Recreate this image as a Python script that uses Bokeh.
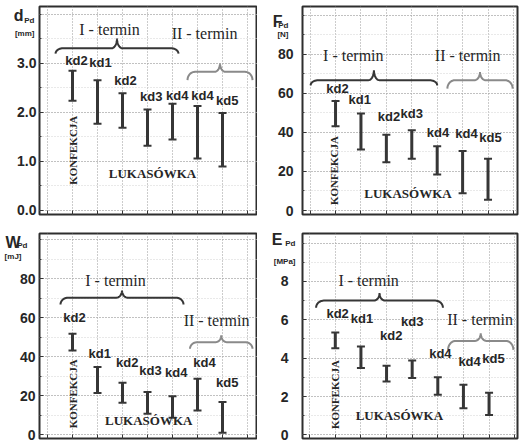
import numpy as np
from bokeh.plotting import figure
from bokeh.layouts import gridplot
from bokeh.models import (ColumnDataSource, Whisker, TeeHead, FixedTicker,
                          Range1d, Label, NumeralTickFormatter, LinearAxis)
from bokeh.core.properties import value
from bokeh.embed import file_html
from bokeh.resources import INLINE

# ---------------- data ----------------
positions = [1, 2, 3, 4, 5, 6, 7]
labels = ["kd2", "kd1", "kd2", "kd3", "kd4", "kd4", "kd5"]

d_lo = [2.24, 1.77, 1.69, 1.32, 1.45, 1.06, 0.90]
d_hi = [2.85, 2.66, 2.39, 2.06, 2.18, 2.13, 1.99]
d_label_x = [1.16, 2.12, 3.12, 4.15, 5.19, 6.20, 7.19]
d_label_y = [3.07, 3.01, 2.66, 2.32, 2.35, 2.35, 2.25]

F_lo = [43.2, 31.3, 24.8, 26.5, 18.5, 8.9, 5.5]
F_hi = [56.2, 49.7, 38.9, 41.1, 32.9, 30.5, 26.5]
F_label_x = [1.08, 1.95, 3.10, 4.00, 5.03, 6.15, 7.10]
F_label_y = [62.5, 57.0, 48.0, 49.7, 40.2, 39.4, 37.3]

W_lo = [43.2, 21.4, 16.4, 10.8, 8.7, 12.5, 1.0]
W_hi = [51.8, 34.7, 26.7, 21.9, 19.7, 28.7, 16.8]
W_label_x = [1.08, 2.09, 3.19, 4.12, 5.15, 6.28, 7.19]
W_label_y = [60.0, 41.5, 37.3, 33.0, 32.1, 37.3, 27.0]

E_lo = [4.52, 3.48, 2.78, 2.96, 2.09, 1.39, 1.04]
E_hi = [5.34, 4.61, 3.60, 3.88, 3.00, 2.61, 2.20]
E_label_x = [1.09, 2.04, 3.18, 4.00, 5.10, 6.24, 7.17]
E_label_y = [6.35, 6.05, 5.20, 5.90, 4.26, 3.83, 4.00]

term1 = "I - termin"
term2 = "II - termin"
konf_text = "KONFEKCJA"
luk_text = "LUKASÓWKA"

d_ticks = [0, 1, 2, 3]
F_ticks = [0, 20, 40, 60, 80]
W_ticks = [0, 20, 40, 60, 80]
E_ticks = [0, 2, 4, 6, 8]

DARK = "#363636"
GRAY = "#8a8a8a"
TXT = "#262626"
SANS = "Liberation Sans"
SERIF = "Liberation Serif"
XT = list(range(0, 9))


def brace_xy(x0, x1, yb, de, dp, r_hook, r_peak):
    xc = (x0 + x1) / 2.0
    t = np.linspace(0, np.pi / 2, 12)
    hx = x0 + r_hook * (1 - np.cos(t))
    hy = yb - de * (1 - np.sin(t))
    px = xc - r_peak + r_peak * np.sin(t)
    py = yb + dp * (1 - np.cos(t))
    lx = np.concatenate([hx, px])
    ly = np.concatenate([hy, py])
    rx = (2 * xc - lx)[::-1]
    ry = ly[::-1]
    return np.concatenate([lx, rx]), np.concatenate([ly, ry])


def label_axis(p, items, size, standoff):
    """A tick-less left axis whose only tick labels are parts of the y caption."""
    ticks = [y for y, _ in items]
    ax = LinearAxis(ticker=FixedTicker(ticks=ticks, minor_ticks=[]))
    ax.major_label_overrides = {y: t for y, t in items}
    ax.axis_line_color = None
    ax.major_tick_line_color = None
    ax.minor_tick_line_color = None
    ax.major_tick_in = 0
    ax.major_tick_out = 0
    ax.major_label_standoff = standoff
    ax.major_label_text_font = SANS
    ax.major_label_text_font_style = "bold"
    ax.major_label_text_font_size = size
    ax.major_label_text_color = TXT
    p.add_layout(ax, "left")


def panel(xr, yr, ticks, grid_top, minor_step, fmt, lo, hi, lx, ly,
          braces, t1, t2, konf, luk, caption, borders, standoff, fw, fh):
    bl, br, bt, bb = borders
    p = figure(x_range=Range1d(*xr), y_range=Range1d(*yr),
               frame_width=fw, frame_height=fh,
               min_border_left=bl, min_border_right=br,
               min_border_top=bt, min_border_bottom=bb,
               output_backend="svg", toolbar_location=None,
               background_fill_color="white", border_fill_color="white")
    p.outline_line_color = "#2e2e2e"
    p.outline_line_width = 2

    # y axis
    p.yaxis.ticker = FixedTicker(ticks=ticks,
                                 minor_ticks=list(np.arange(0, grid_top + 1e-9, minor_step)))
    if fmt:
        p.yaxis.formatter = NumeralTickFormatter(format=fmt)
    p.yaxis.axis_line_color = None
    p.yaxis.major_tick_in = 4
    p.yaxis.major_tick_out = 0
    p.yaxis.minor_tick_in = 2
    p.yaxis.minor_tick_out = 0
    p.yaxis.major_tick_line_color = DARK
    p.yaxis.minor_tick_line_color = DARK
    p.yaxis.major_label_standoff = standoff
    p.yaxis.major_label_text_font = SANS
    p.yaxis.major_label_text_font_style = "bold"
    p.yaxis.major_label_text_font_size = "14px"
    p.yaxis.major_label_text_color = TXT

    # caption axes (stacked outward)
    for items, size, so in caption:
        label_axis(p, items, size, so)

    # x axis (ticks only)
    ax = p.xaxis[0]
    ax.ticker = FixedTicker(ticks=XT)
    ax.axis_line_color = None
    ax.major_tick_in = 4
    ax.major_tick_out = 0
    ax.minor_tick_line_color = None
    ax.major_tick_line_color = DARK
    ax.major_label_overrides = {i: "" for i in XT}
    ax.major_label_text_font_size = "1px"
    ax.major_label_standoff = 0

    # grid
    p.xgrid.ticker = FixedTicker(ticks=XT)
    p.ygrid.ticker = FixedTicker(ticks=list(np.arange(0, grid_top + 1e-9, ticks[1] - ticks[0])),
                                 minor_ticks=list(np.arange(0, grid_top + 1e-9, minor_step)))
    for g in (p.xgrid, p.ygrid):
        g.grid_line_color = "#999999"
        g.grid_line_dash = "1 2"
        g.grid_line_width = 1
    p.ygrid.minor_grid_line_color = "#d2d2d2"
    p.ygrid.minor_grid_line_dash = "1 2"

    # braces
    for (x0, x1, yb, de, dp), col in zip(braces, (DARK, GRAY)):
        bx, by = brace_xy(x0, x1, yb, de, dp, 0.3, 0.22)
        p.line(bx, by, line_color=col, line_width=2)

    # error bars
    src = ColumnDataSource(dict(base=positions, lower=lo, upper=hi))
    w = Whisker(source=src, base="base", lower="lower", upper="upper",
                line_color=DARK, line_width=3,
                upper_head=TeeHead(size=8, line_width=2, line_color=DARK),
                lower_head=TeeHead(size=8, line_width=2, line_color=DARK))
    p.add_layout(w)

    # bar labels
    p.text(x=lx, y=ly, text=labels, text_align="center", text_baseline="middle",
           text_font=value(SANS), text_font_style="bold", text_font_size="13px",
           text_color=TXT)

    for (x, y), txt in ((t1, term1), (t2, term2)):
        p.add_layout(Label(x=x, y=y, text=txt, text_align="center", text_baseline="middle",
                           text_font=SERIF, text_font_size="16px", text_color=TXT))
    p.add_layout(Label(x=konf[0], y=konf[1], text=konf_text, angle=np.pi / 2,
                       text_align="center", text_baseline="middle",
                       text_font=SERIF, text_font_style="bold", text_font_size="11px",
                       text_color=TXT))
    p.add_layout(Label(x=luk[0], y=luk[1], text=luk_text,
                       text_align="center", text_baseline="middle",
                       text_font=SERIF, text_font_style="bold", text_font_size="13px",
                       text_color=TXT))
    return p


p1 = panel((-0.32, 8.4), (-0.082, 4.163), d_ticks, 4, 0.5, "0.0",
           d_lo, d_hi, d_label_x, d_label_y,
           [(0.32, 5.24, 3.31, 0.11, 0.20), (5.6, 8.2, 2.83, 0.17, 0.17)],
           (2.48, 3.69), (6.28, 3.61), (1.0, 1.23), (4.2, 0.75),
           [([(3.88, "Pd"), (3.61, "[mm]")], "8px", -20),
            ([(3.98, "d")], "16px", -12)],
           (39, 0, 6, 6), 3, 218, 208)

p2 = panel((-0.30, 8.16), (-2.05, 104.6), F_ticks, 100, 10, None,
           F_lo, F_hi, F_label_x, F_label_y,
           [(0.02, 5.0, 66.8, 2.6, 5.1), (5.4, 7.97, 66.8, 4.3, 4.2)],
           (1.7, 79.6), (6.2, 79.6), (0.95, 20.5), (3.85, 8.6),
           [([(94.9, "Pd"), (90.3, "[N]")], "8px", -14),
            ([(96.9, "F")], "16px", -8)],
           (45, 4, 6, 6), 9, 215, 208)

p3 = panel((-0.32, 8.4), (-1.9, 103.2), W_ticks, 100, 10, None,
           W_lo, W_hi, W_label_x, W_label_y,
           [(0.52, 5.44, 70.3, 3.5, 3.7), (5.7, 8.2, 47.5, 3.4, 3.5)],
           (2.72, 79.1), (6.76, 58.6), (1.03, 21.0), (4.05, 7.4),
           [([(97.3, "Pd")], "8px", -11),
            ([(98.4, "W")], "16px", -6),
            ([(91.2, "[mJ]")], "8px", -19)],
           (39, 0, 13, 5), 4, 218, 205)

p4 = panel((-0.28, 8.11), (-0.19, 10.5), E_ticks, 10, 1, None,
           E_lo, E_hi, E_label_x, E_label_y,
           [(0.25, 5.2, 7.0, 0.37, 0.39), (5.4, 7.95, 4.9, 0.47, 0.4)],
           (2.3, 8.05), (6.65, 6.0), (1.0, 2.1), (3.5, 1.0),
           [([(10.0, "Pd"), (9.04, "[MPa]")], "8px", -18),
            ([(10.19, "E")], "16px", -12)],
           (45, 4, 13, 5), 14, 215, 205)

grid = gridplot([[p1, p2], [p3, p4]], toolbar_location=None)

open("out.html", "w").write(file_html(grid, INLINE))
